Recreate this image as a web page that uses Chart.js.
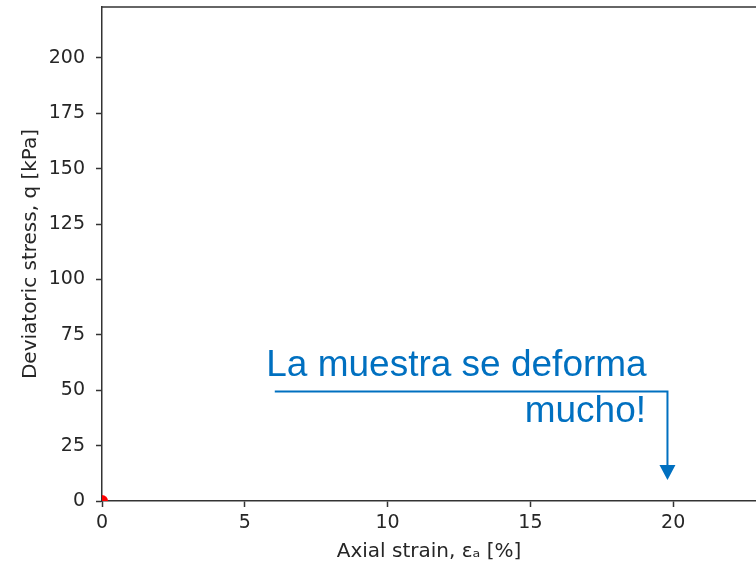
<!DOCTYPE html>
<html>
<head>
<meta charset="utf-8">
<script src="https://cdn.jsdelivr.net/npm/chart.js@4/dist/chart.umd.min.js"></script>
<style>
  html, body { margin: 0; padding: 0; background: #fff; overflow: hidden; }
  #wrap { width: 756px; height: 567px; overflow: hidden; }
</style>
</head>
<body>
<div id="wrap"><canvas id="chart" width="762" height="567"></canvas></div>
<script>
// Measured points (only the first one has been recorded so far)
const strain = [0];
const stress = [0];

// Axis ranges and ticks
const xTicks = [0, 5, 10, 15, 20];
const yTicks = [0, 25, 50, 75, 100, 125, 150, 175, 200];
const xMax = 22.9;
const yMax = 223;

// Annotation (in data units)
const noteLines = ["La muestra se deforma", "mucho!"];
const noteTextX = [5.75, 19.05];
const noteTextY = [56.4, 35.7];
const arrowX = [6.05, 19.8, 19.8];
const arrowY = [49.4, 49.4, 9.5];

const axisColor = "#333333";
const textColor = "#262626";
const noteColor = "#0070C0";

// Draw top spine and the annotation arrow
const notePlugin = {
  id: "note",
  afterDraw(chart) {
    const { ctx, chartArea, scales } = chart;
    ctx.save();
    ctx.strokeStyle = axisColor;
    ctx.lineWidth = 1.5;
    ctx.beginPath();
    ctx.moveTo(chartArea.left, chartArea.top);
    ctx.lineTo(chartArea.right, chartArea.top);
    ctx.stroke();

    const px = arrowX.map(v => scales.x.getPixelForValue(v));
    const py = arrowY.map(v => scales.y.getPixelForValue(v));
    const n = px.length - 1;
    const head = 15;
    ctx.strokeStyle = noteColor;
    ctx.fillStyle = noteColor;
    ctx.lineWidth = 2;
    ctx.beginPath();
    ctx.moveTo(px[0], py[0]);
    for (let i = 1; i < n; i++) ctx.lineTo(px[i], py[i]);
    ctx.lineTo(px[n], py[n] - head);
    ctx.stroke();
    ctx.beginPath();
    ctx.moveTo(px[n] - 8, py[n] - head);
    ctx.lineTo(px[n] + 8, py[n] - head);
    ctx.lineTo(px[n], py[n]);
    ctx.closePath();
    ctx.fill();

    ctx.font = "37px 'Liberation Sans', Arial, sans-serif";
    ctx.textBaseline = "alphabetic";
    ctx.textAlign = "left";
    ctx.fillText(noteLines[0], scales.x.getPixelForValue(noteTextX[0]), scales.y.getPixelForValue(noteTextY[0]));
    ctx.textAlign = "right";
    ctx.fillText(noteLines[1], scales.x.getPixelForValue(noteTextX[1]), scales.y.getPixelForValue(noteTextY[1]));
    ctx.restore();
  }
};

const tickFont = { family: "'DejaVu Sans', sans-serif", size: 19 };
const titleFont = { family: "'DejaVu Sans', sans-serif", size: 20 };

new Chart(document.getElementById("chart").getContext("2d"), {
  type: "scatter",
  data: {
    datasets: [{
      data: strain.map((x, i) => ({ x: x, y: stress[i] })),
      backgroundColor: "#ff0000",
      borderWidth: 0,
      pointRadius: 6,
      clip: 0
    }]
  },
  options: {
    responsive: false,
    animation: false,
    layout: { padding: { top: 7, right: 0, left: 0, bottom: 0 } },
    plugins: { legend: { display: false }, tooltip: { enabled: false } },
    scales: {
      x: {
        type: "linear",
        min: 0,
        max: xMax,
        afterFit: s => { s.height = 66; s.paddingLeft = 0; s.paddingRight = 0; },
        afterBuildTicks: s => { s.ticks = xTicks.map(v => ({ value: v })); },
        ticks: { color: textColor, font: tickFont, padding: 5, autoSkip: false, maxRotation: 0 },
        grid: { drawOnChartArea: false, drawTicks: true, tickLength: 6, tickColor: axisColor, tickWidth: 1.5 },
        border: { display: true, color: axisColor, width: 1.5 },
        title: { display: true, text: "Axial strain, εₐ [%]", color: textColor, font: titleFont, padding: { top: 0, bottom: 3 } }
      },
      y: {
        type: "linear",
        min: 0,
        max: yMax,
        afterFit: s => { s.width = 102; s.paddingTop = 0; s.paddingBottom = 0; },
        afterBuildTicks: s => { s.ticks = yTicks.map(v => ({ value: v })); },
        ticks: { color: textColor, font: tickFont, padding: 11, autoSkip: false },
        grid: { drawOnChartArea: false, drawTicks: true, tickLength: 6, tickColor: axisColor, tickWidth: 1.5 },
        border: { display: true, color: axisColor, width: 1.5 },
        title: { display: true, text: "Deviatoric stress, q [kPa]", color: textColor, font: titleFont, padding: { top: 19, bottom: 0 } }
      }
    }
  },
  plugins: [notePlugin]
});
</script>
</body>
</html>
